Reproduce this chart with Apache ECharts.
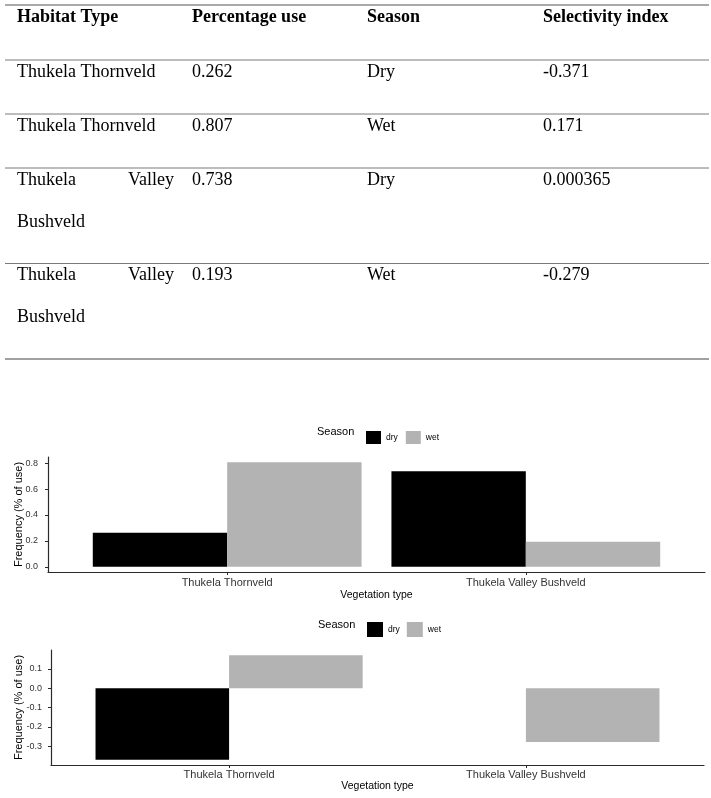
<!DOCTYPE html>
<html><head><meta charset="utf-8">
<script src="https://cdn.jsdelivr.net/npm/echarts@6/dist/echarts.min.js"></script>
<style>html,body{margin:0;padding:0;background:#fff}#c{width:711px;height:798px}</style>
</head><body><div id="c"></div>
<script>
// ---- data ----
const tableHeaders = ['Habitat Type', 'Percentage use', 'Season', 'Selectivity index'];
const vegetationTypes = ['Thukela Thornveld', 'Thukela Valley Bushveld'];
const seasons = ['dry', 'wet'];
const seasonLabels = ['Dry', 'Wet'];
const useDry = [0.262, 0.738];
const useWet = [0.807, 0.193];
const selDry = [-0.371, 0.000365];
const selWet = [0.171, -0.279];
const useTicks = [0, 0.2, 0.4, 0.6, 0.8];
const selTicks = [-0.3, -0.2, -0.1, 0.0, 0.1];
const catPositions = [1, 2];

// ---- styling ----
const SANS = '"Liberation Sans", Arial, sans-serif';
const SERIF = '"Liberation Serif", "Times New Roman", serif';
const DRY_COLOR = '#000000';
const WET_COLOR = '#b3b3b3';

// ---- table (graphic) ----
const graphics = [];
const measureCtx = document.createElement('canvas').getContext('2d');
measureCtx.font = '18px "Liberation Serif"';
function wrap(text, width) {
  const words = text.split(' ');
  const lines = [];
  let cur = [];
  words.forEach(w => {
    const trial = cur.concat([w]).join(' ');
    if (cur.length && measureCtx.measureText(trial).width > width) { lines.push(cur); cur = [w]; }
    else cur.push(w);
  });
  if (cur.length) lines.push(cur);
  return lines;
}
const colX = [17, 192, 367, 543];
const habitatWidth = 157;
const tableLeft = 5, tableRight = 709;
const lineGap = 42;
let yTop = 5;
graphics.push({type: 'line', shape: {x1: tableLeft, y1: yTop, x2: tableRight, y2: yTop}, style: {stroke: '#555', lineWidth: 1.2}});
tableHeaders.forEach((h, i) => {
  graphics.push({type: 'text', x: colX[i], y: yTop + 12, style: {text: h, fontFamily: SERIF, fontSize: 18, fontWeight: 'bold', fill: '#000', align: 'left', verticalAlign: 'middle'}});
});
yTop += 55;
const rows = [];
vegetationTypes.forEach((v, vi) => {
  seasons.forEach((s, si) => {
    const use = si === 0 ? useDry[vi] : useWet[vi];
    const sel = si === 0 ? selDry[vi] : selWet[vi];
    rows.push([v, String(use), seasonLabels[si], String(sel)]);
  });
});
rows.forEach((r, ri) => {
  graphics.push({type: 'line', shape: {x1: tableLeft, y1: yTop, x2: tableRight, y2: yTop}, style: {stroke: '#7a7a7a', lineWidth: 1}});
  const lines = wrap(r[0], habitatWidth);
  lines.forEach((words, li) => {
    const y = yTop + 12 + li * lineGap;
    if (li < lines.length - 1 && words.length > 1) {
      const widths = words.map(w => measureCtx.measureText(w).width);
      const total = widths.reduce((a, b) => a + b, 0);
      const gap = (habitatWidth - total) / (words.length - 1);
      let x = colX[0];
      words.forEach((w, wi) => {
        graphics.push({type: 'text', x: x, y: y, style: {text: w, fontFamily: SERIF, fontSize: 18, fill: '#000', align: 'left', verticalAlign: 'middle'}});
        x += widths[wi] + gap;
      });
    } else {
      graphics.push({type: 'text', x: colX[0], y: y, style: {text: words.join(' '), fontFamily: SERIF, fontSize: 18, fill: '#000', align: 'left', verticalAlign: 'middle'}});
    }
  });
  for (let c = 1; c < 4; c++) {
    graphics.push({type: 'text', x: colX[c], y: yTop + 12, style: {text: r[c], fontFamily: SERIF, fontSize: 18, fill: '#000', align: 'left', verticalAlign: 'middle'}});
  }
  yTop += 54 + (lines.length - 1) * 41.5;
});
graphics.push({type: 'line', shape: {x1: tableLeft, y1: yTop, x2: tableRight, y2: yTop}, style: {stroke: '#444', lineWidth: 1.2}});

// "Season" legend titles
graphics.push({type: 'text', x: 317, y: 432, style: {text: 'Season', fontFamily: SANS, fontSize: 11, fill: '#000', align: 'left', verticalAlign: 'middle'}});
graphics.push({type: 'text', x: 318, y: 625, style: {text: 'Season', fontFamily: SANS, fontSize: 11, fill: '#000', align: 'left', verticalAlign: 'middle'}});

// ---- charts ----
const grids = [
  {left: 48, top: 457, width: 657, height: 115, outerBoundsMode: 'none', containLabel: false},
  {left: 51, top: 650, width: 653, height: 115, outerBoundsMode: 'none', containLabel: false}
];
const X_MIN = 0.4, X_MAX = 2.6, DODGE = 0.45;

function xAxis(gi, labelMargin, nameGap) {
  return {
    gridIndex: gi, type: 'value', min: X_MIN, max: X_MAX,
    axisLine: {show: true, onZero: false, lineStyle: {color: '#2a2a2a', width: 1.2}},
    axisTick: {show: true, customValues: catPositions, length: 3, lineStyle: {color: '#2a2a2a'}},
    axisLabel: {customValues: catPositions, formatter: v => vegetationTypes[Math.round(v) - 1], color: '#333', fontSize: 11, fontFamily: SANS, margin: labelMargin},
    splitLine: {show: false},
    name: 'Vegetation type', nameLocation: 'middle', nameGap: nameGap, nameMoveOverlap: false,
    nameTextStyle: {color: '#000', fontSize: 10.5, fontFamily: SANS}
  };
}
function yAxis(gi, min, max, ticks, nameGap, margin) {
  return {
    gridIndex: gi, type: 'value', min: min, max: max,
    axisLine: {show: true, onZero: false, lineStyle: {color: '#2a2a2a', width: 1.2}},
    axisTick: {show: true, customValues: ticks, length: 3, lineStyle: {color: '#2a2a2a'}},
    axisLabel: {customValues: ticks, formatter: v => v.toFixed(1), color: '#333', fontSize: 9, fontFamily: SANS, margin: margin},
    splitLine: {show: false},
    name: 'Frequency (% of use)', nameLocation: 'middle', nameGap: nameGap, nameMoveOverlap: false,
    nameTextStyle: {color: '#000', fontSize: 11, fontFamily: SANS}
  };
}
function bars(gi, name, values, color) {
  const bw = grids[gi].width * DODGE / (X_MAX - X_MIN);
  return {
    type: 'bar', name: name, xAxisIndex: gi, yAxisIndex: gi,
    data: values.map((v, i) => [catPositions[i], v]),
    barWidth: bw, barGap: '0%',
    itemStyle: {color: color}, emphasis: {disabled: true}, animation: false
  };
}
const legendBase = {
  icon: 'rect', data: seasons, selectedMode: false, orient: 'horizontal',
  textStyle: {fontSize: 8.5, color: '#000', fontFamily: SANS}
};

const chart = echarts.init(document.getElementById('c'), null, {renderer: 'canvas'});
chart.setOption({
  backgroundColor: '#fff',
  animation: false,
  grid: grids,
  legend: [
    Object.assign({}, legendBase, {left: 361, top: 426, itemWidth: 15, itemHeight: 13, itemGap: 8}),
    Object.assign({}, legendBase, {left: 362, top: 617, itemWidth: 16, itemHeight: 15, itemGap: 7})
  ],
  xAxis: [xAxis(0, 5, 18), xAxis(1, 4, 16)],
  yAxis: [
    yAxis(0, -0.04035, 0.84735, useTicks, 24, 10),
    yAxis(1, -0.3981, 0.1981, selTicks, 27, 9)
  ],
  series: [
    bars(0, 'dry', useDry, DRY_COLOR),
    bars(0, 'wet', useWet, WET_COLOR),
    bars(1, 'dry', selDry, DRY_COLOR),
    bars(1, 'wet', selWet, WET_COLOR)
  ],
  graphic: graphics
});
</script>
</body></html>
